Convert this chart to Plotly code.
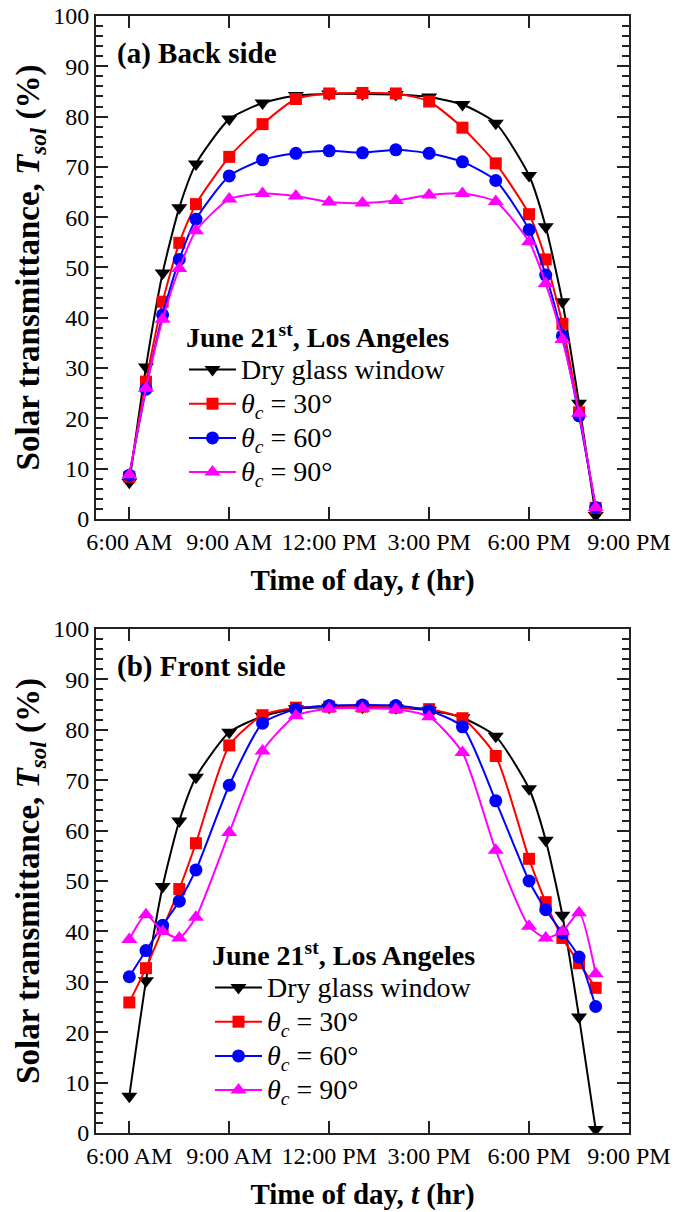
import plotly.graph_objects as go

# ---------------- data ----------------
hours = [6, 6.5, 7, 7.5, 8, 9, 10, 11, 12, 13, 14, 15, 16, 17, 18, 18.5, 19, 19.5, 20]
tick_vals = [6, 9, 12, 15, 18, 21]
tick_text = ["6:00 AM", "9:00 AM", "12:00 PM", "3:00 PM", "6:00 PM", "9:00 PM"]

dry_glass = [7.3, 30.2, 48.9, 61.9, 70.6, 79.5, 82.7, 84.2, 84.5, 84.5, 84.4, 83.9, 82.4, 78.7, 68.3, 58.1, 43.2, 23.0, 0.7]

back_30 = [8.4, 27.3, 43.2, 54.9, 62.6, 72.0, 78.5, 83.5, 84.6, 84.7, 84.6, 83.0, 77.8, 70.7, 60.6, 51.6, 38.8, 21.2, 2.2]
back_60 = [8.7, 25.8, 40.6, 51.6, 59.6, 68.2, 71.4, 72.7, 73.2, 72.8, 73.4, 72.7, 71.0, 67.3, 57.5, 48.5, 36.4, 20.5, 2.3]
back_90 = [8.8, 26.0, 39.7, 49.8, 57.3, 63.6, 64.7, 64.2, 63.0, 62.8, 63.3, 64.4, 64.7, 63.1, 55.1, 46.8, 35.7, 21.0, 2.3]

front_30 = [25.9, 32.7, 40.5, 48.4, 57.5, 76.9, 82.9, 84.4, 84.6, 84.6, 84.4, 84.1, 82.3, 74.8, 54.4, 45.8, 38.7, 33.7, 28.8]
front_60 = [31.0, 36.2, 41.2, 46.0, 52.2, 69.0, 81.3, 84.1, 84.8, 84.9, 84.8, 83.8, 80.6, 65.9, 50.0, 44.3, 39.7, 34.9, 25.1]
front_90 = [38.4, 43.3, 40.0, 38.7, 42.8, 59.6, 75.8, 82.8, 84.2, 84.3, 84.1, 82.6, 75.5, 56.1, 41.0, 38.7, 40.0, 43.7, 31.6]

series_names = ["Dry glass window",
                "<i>θ<sub>c</sub></i> = 30°",
                "<i>θ<sub>c</sub></i> = 60°",
                "<i>θ<sub>c</sub></i> = 90°"]
colors = ["#000000", "#ff0000", "#0000ff", "#ff00ff"]
symbols = ["triangle-down", "square", "circle", "triangle-up"]
msizes = [14, 12, 13, 14]

FONT = "Liberation Serif"

fig = go.Figure()

panels = [
    ("x", "y", "legend", [dry_glass, back_30, back_60, back_90]),
    ("x2", "y2", "legend2", [dry_glass, front_30, front_60, front_90]),
]
for xa, ya, lg, ys in panels:
    for i, yv in enumerate(ys):
        fig.add_trace(go.Scatter(
            x=hours, y=yv, xaxis=xa, yaxis=ya, legend=lg,
            name='<span style="font-size:28px">' + series_names[i] + "</span>",
            legendgroup=lg + str(i),
            mode="lines+markers",
            line=dict(color=colors[i], width=2, shape="spline", smoothing=0.6),
            marker=dict(symbol=symbols[i], size=msizes[i], color=colors[i]),
        ))

axis_common = dict(
    showline=True, linecolor="#222", linewidth=2, mirror="allticks",
    ticks="inside", ticklen=12, tickwidth=1.5, tickcolor="#222",
    showgrid=False, zeroline=False,
    tickfont=dict(family=FONT, size=24, color="black"),
)
xcommon = dict(axis_common, range=[5, 21], tickmode="array",
               tickvals=tick_vals, ticktext=tick_text, tickangle=0,
               title=dict(text="<b>Time of day, <i>t</i> (hr)</b>",
                          font=dict(family=FONT, size=29, color="black"), standoff=16))
ycommon = dict(axis_common, range=[0, 100], dtick=10, tick0=0,
               minor=dict(dtick=2, ticks="inside", ticklen=7, tickwidth=1.5, tickcolor="#222"),
               title=dict(text="<b>Solar transmittance, <i>T<sub>sol</sub></i> (%)</b>",
                          font=dict(family=FONT, size=33, color="black"), standoff=4))

# plot area in pixels: x 96..629, y 16..1133
def px_x(p):
    return (p - 96) / 533.0

def px_y(p):
    return (1133 - p) / 1117.0

leg_common = dict(
    font=dict(family=FONT, size=24, color="black"),
    bgcolor="rgba(0,0,0,0)", borderwidth=0,
    xref="paper", yref="paper", xanchor="left", yanchor="top",
    tracegroupgap=0, itemwidth=47,
)

fig.update_layout(
    width=686, height=1212,
    margin=dict(l=96, r=57, t=16, b=79, autoexpand=False),
    paper_bgcolor="white", plot_bgcolor="white",
    font=dict(family=FONT, color="black"),
    xaxis=dict(xcommon, domain=[0, 1], anchor="y"),
    yaxis=dict(ycommon, domain=[0.5497, 1], anchor="x"),
    xaxis2=dict(xcommon, domain=[0, 1], anchor="y2"),
    yaxis2=dict(ycommon, domain=[0, 0.4512], anchor="x2"),
    legend=dict(leg_common, x=px_x(184), y=px_y(311),
                title=dict(text="<b>June 21<sup>st</sup>, Los Angeles</b>",
                           font=dict(family=FONT, size=28, color="black"))),
    legend2=dict(leg_common, x=px_x(210), y=px_y(929),
                 title=dict(text="<b>June 21<sup>st</sup>, Los Angeles</b>",
                            font=dict(family=FONT, size=28, color="black"))),
    showlegend=True,
    annotations=[
        dict(text="<b>(a) Back side</b>", xref="x domain", yref="y domain",
             x=0.035, y=0.926, xanchor="left", yanchor="middle", showarrow=False,
             font=dict(family=FONT, size=29, color="black")),
        dict(text="<b>(b) Front side</b>", xref="x2 domain", yref="y2 domain",
             x=0.035, y=0.926, xanchor="left", yanchor="middle", showarrow=False,
             font=dict(family=FONT, size=29, color="black")),
    ],
)

fig.write_html("out.html")
